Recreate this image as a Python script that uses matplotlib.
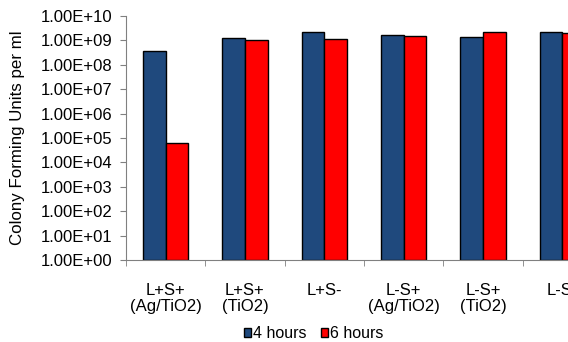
import matplotlib
matplotlib.use("Agg")
import matplotlib.pyplot as plt
import numpy as np
from matplotlib.ticker import FixedLocator, FuncFormatter, NullLocator

plt.rcParams['font.family'] = ['Liberation Sans', 'DejaVu Sans']

categories = ["L+S+\n(Ag/TiO2)", "L+S+\n(TiO2)", "L+S-", "L-S+\n(Ag/TiO2)", "L-S+\n(TiO2)", "L-S-"]
series_names = ["4 hours", "6 hours"]
hours4 = [3.7e8, 1.2e9, 2.2e9, 1.7e9, 1.35e9, 2.2e9]
hours6 = [6.0e4, 1.05e9, 1.15e9, 1.55e9, 2.2e9, 2.1e9]
colors = ["#1F497D", "#FF0000"]

fig = plt.figure(figsize=(5.68, 3.42), dpi=100)
ax = fig.add_axes([126/568, 1-260/342, 476/568, 244/342])

x = np.arange(len(categories))
w = 0.285
ax.bar(x - w/2, hours4, width=w, color=colors[0], edgecolor="black", linewidth=1.0, label=series_names[0], bottom=1)
ax.bar(x + w/2, hours6, width=w, color=colors[1], edgecolor="black", linewidth=1.0, label=series_names[1], bottom=1)

ax.set_yscale("log")
ax.set_ylim(1, 1e10)
ax.set_xlim(-0.5, len(categories) - 0.5)
ax.yaxis.set_major_locator(FixedLocator([10.0**k for k in range(11)]))
ax.yaxis.set_minor_locator(NullLocator())
ax.yaxis.set_major_formatter(FuncFormatter(lambda v, p: "1.00E+%02d" % int(round(np.log10(v)))))
ax.tick_params(axis="y", direction="out", length=4, color="#808080", labelsize=12, pad=6)

ax.set_xticks(x)
ax.set_xticklabels(categories, fontsize=12, linespacing=1.05)
ax.set_xticks(np.arange(len(categories) + 1) - 0.5, minor=True)
ax.tick_params(axis="x", which="major", length=0, pad=16.5)
ax.tick_params(axis="x", which="minor", length=4, direction="out", color="#808080")

for s in ["top", "right"]:
    ax.spines[s].set_visible(False)
for s in ["left", "bottom"]:
    ax.spines[s].set_color("#808080")

ax.set_ylabel("Colony Forming Units per ml", fontsize=12.2)
ax.yaxis.set_label_coords(-0.212, 0.5)

fig.legend(loc="center", bbox_to_anchor=(0.552, 0.024), ncol=2, frameon=False,
           fontsize=11.5, handlelength=0.45, handleheight=0.45, handletextpad=0.1,
           columnspacing=0.9, borderaxespad=0, borderpad=0)

fig.savefig("out.png", dpi=100)
